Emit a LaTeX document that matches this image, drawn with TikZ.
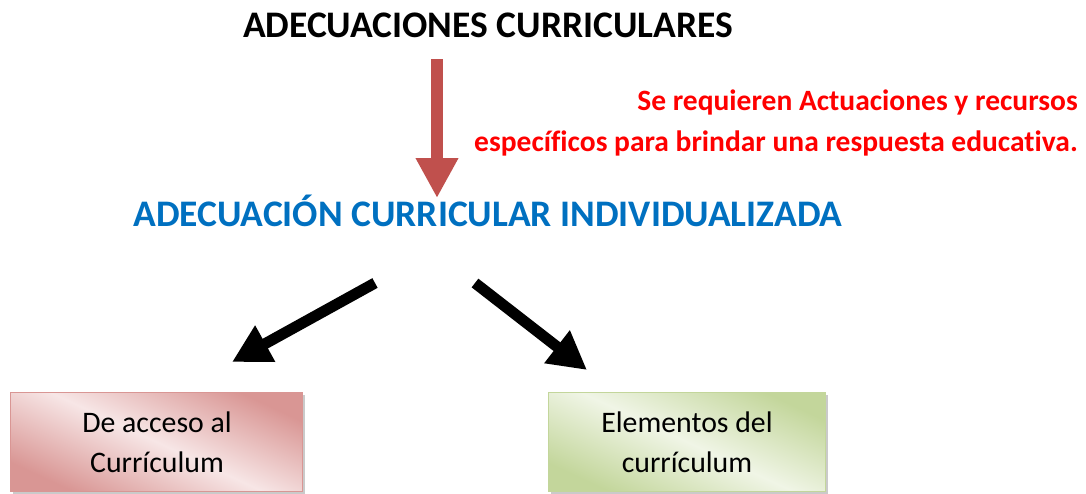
\documentclass[tikz,border=0pt]{standalone}
\usepackage{fontspec}
\setmainfont{Carlito}[RawFeature={-liga;-clig;-calt;-dlig}]
\usetikzlibrary{arrows.meta,shadows}
\definecolor{titleblue}{HTML}{0070C0}
\definecolor{redarrow}{HTML}{C0504D}
\definecolor{pinkdark}{HTML}{D99694}
\definecolor{pinklight}{HTML}{F7E6E6}
\definecolor{greendark}{HTML}{C3D69B}
\definecolor{greenlight}{HTML}{F0F5E6}
\tikzset{
  bigtitle/.style={font=\fontsize{37.5}{44}\selectfont\bfseries, inner sep=0pt, anchor=base},
  redtext/.style={font=\fontsize{29.5}{34}\selectfont\bfseries, text=red, inner sep=0pt, anchor=base east},
  boxtext/.style={font=\fontsize{29.8}{40}\selectfont, inner sep=0pt, anchor=base},
  blackarrow/.style={line width=11pt, -{Triangle[length=38pt,width=39pt]}},
  pinkbox/.style={draw=pinkdark, line width=1pt, top color=pinkdark, bottom color=pinkdark, middle color=pinklight, shading angle=-25,
     drop shadow={shadow xshift=3pt, shadow yshift=-3pt, fill=gray!70, opacity=0.6}},
  greenbox/.style={draw=greendark, line width=1pt, top color=greendark, bottom color=greendark, middle color=greenlight, shading angle=-25,
     drop shadow={shadow xshift=3pt, shadow yshift=-3pt, fill=gray!70, opacity=0.6}},
}
\begin{document}
\begin{tikzpicture}[x=1pt,y=-1pt]
\useasboundingbox (0,0) rectangle (1086,493);
% boxes
\path[pinkbox] (10,392) rectangle (302,491);
\path[greenbox] (548,392) rectangle (825,491);
\node[boxtext] (b1a) at (157,432) {De acceso al};
\node[boxtext] (b1b) at (157,472) {Currículum};
\node[boxtext] (b2a) at (687,432) {Elementos del};
\node[boxtext] (b2b) at (687,472) {currículum};
% titles
\node[bigtitle] (title) at (488,37) {ADECUACIONES CURRICULARES};
\node[bigtitle, text=titleblue] (aci) at (488,226) {ADECUACIÓN CURRICULAR INDIVIDUALIZADA};
\node[redtext] (r1) at (1078,110) {Se requieren Actuaciones y recursos};
\node[redtext] (r2) at (1078,151) {específicos para brindar una respuesta educativa.};
% arrows
\coordinate (ra1) at (437,59);
\coordinate (ra2) at (437,198);
\draw[redarrow, line width=12.5pt, -{Triangle[length=40pt,width=40pt]}] (ra1) -- (ra2);
\coordinate (la1) at (375,283);
\coordinate (la2) at (232,362);
\coordinate (rb1) at (475,283);
\coordinate (rb2) at (587,370);
\draw[blackarrow] (la1) -- (la2);
\draw[blackarrow] (rb1) -- (rb2);
\end{tikzpicture}
\end{document}
